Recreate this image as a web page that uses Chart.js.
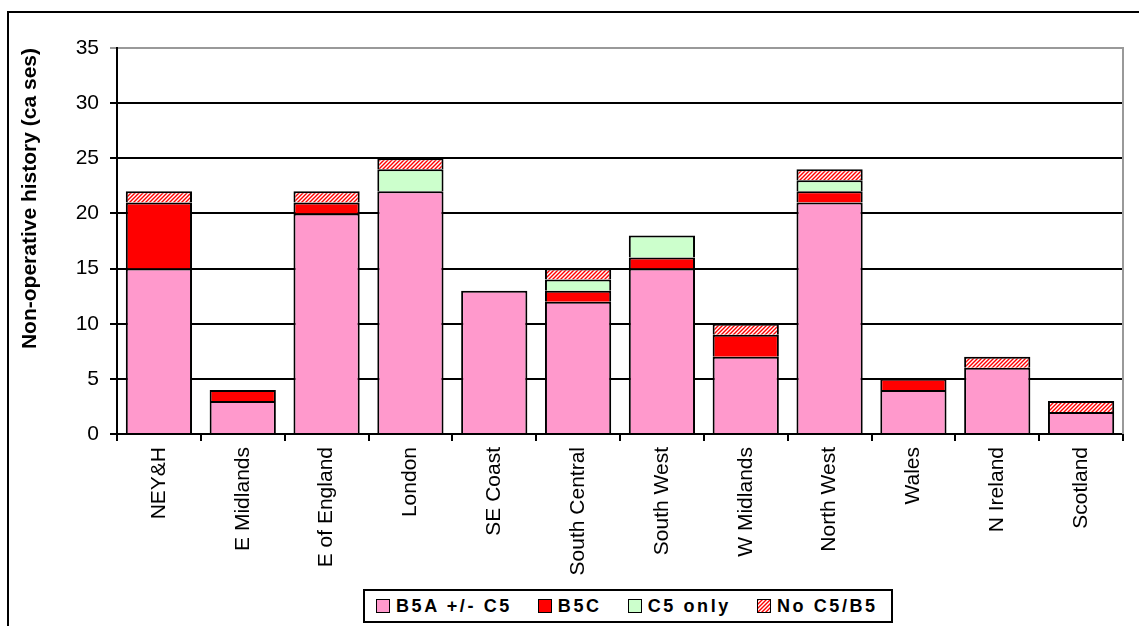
<!DOCTYPE html>
<html>
<head>
<meta charset="utf-8">
<title>Non-operative history by region</title>
<script src="https://cdn.jsdelivr.net/npm/chart.js@4/dist/chart.umd.min.js"></script>
<style>
  body { margin: 0; background: #fff; width: 1139px; height: 626px; overflow: hidden; position: relative;
         font-family: "Liberation Sans", Arial, sans-serif; }
  #frame { position: absolute; left: 7px; top: 11px; width: 1200px; height: 700px; border: 2px solid #000; }
  #chart { position: absolute; left: 0; top: 0; }
  #legend { position: absolute; left: 363px; top: 589px; width: 530px; height: 34px; box-sizing: border-box;
            border: 2px solid #000; background: #fff; display: flex; align-items: center; padding-left: 11px;
            white-space: nowrap; overflow: hidden; }
  #legend .item { display: flex; align-items: center; flex-shrink: 0; margin-right: 26px; }
  #legend .sw { width: 12px; height: 12px; border: 1.5px solid #000; margin-right: 6px; flex-shrink: 0; }
  #legend .lbl { font-weight: bold; font-size: 18px; letter-spacing: 2.6px; color: #000; white-space: nowrap; }
</style>
</head>
<body>
<div id="frame"></div>
<canvas id="chart" width="1139" height="626"></canvas>
<div id="legend"></div>
<script>
const regions = ['NEY&H', 'E Midlands', 'E of England', 'London', 'SE Coast', 'South Central',
                 'South West', 'W Midlands', 'North West', 'Wales', 'N Ireland', 'Scotland'];
const b5aC5  = [15, 3, 20, 22, 13, 12, 15, 7, 21, 4, 6, 2];
const b5c    = [6, 1, 1, 0, 0, 1, 1, 2, 1, 1, 0, 0];
const c5Only = [0, 0, 0, 2, 0, 1, 2, 0, 1, 0, 0, 0];
const noC5B5 = [1, 0, 1, 1, 0, 1, 0, 1, 1, 0, 1, 1];
const seriesNames = ['B5A +/- C5', 'B5C', 'C5 only', 'No C5/B5'];
const yTicks = [0, 5, 10, 15, 20, 25, 30, 35];

// red diagonal hatch for the "No C5/B5" segments
const stripe = document.createElement('canvas');
stripe.width = 4;
stripe.height = 4;
const sctx = stripe.getContext('2d');
sctx.fillStyle = '#fff';
sctx.fillRect(0, 0, 4, 4);
sctx.strokeStyle = '#ff0000';
sctx.lineWidth = 1.4;
sctx.beginPath();
sctx.moveTo(0, 4); sctx.lineTo(4, 0);
sctx.moveTo(-1, 1); sctx.lineTo(1, -1);
sctx.moveTo(3, 5); sctx.lineTo(5, 3);
sctx.stroke();

const canvas = document.getElementById('chart');
const hatch = canvas.getContext('2d').createPattern(stripe, 'repeat');
const fills = ['#ff99cc', '#ff0000', '#ccffcc', hatch];
const swatchCss = ['#ff99cc', '#ff0000', '#ccffcc', `url(${stripe.toDataURL()})`];

const seriesData = [b5aC5, b5c, c5Only, noC5B5];
const datasets = seriesData.map((d, i) => ({
    label: seriesNames[i],
    data: d,
    backgroundColor: fills[i],
    borderColor: '#000',
    borderWidth: 2,
    barPercentage: 0.79,
    categoryPercentage: 1.0
}));

// legend box under the plot
const legendEl = document.getElementById('legend');
seriesNames.forEach((name, i) => {
    const item = document.createElement('div');
    item.className = 'item';
    const sw = document.createElement('span');
    sw.className = 'sw';
    sw.style.background = swatchCss[i];
    const lbl = document.createElement('span');
    lbl.className = 'lbl';
    lbl.textContent = name;
    item.appendChild(sw);
    item.appendChild(lbl);
    legendEl.appendChild(item);
});

// gray right edge of the plot area
const plotEdge = {
    id: 'plotEdge',
    afterDraw(chart) {
        const {ctx, chartArea} = chart;
        ctx.save();
        ctx.strokeStyle = '#999';
        ctx.lineWidth = 2;
        ctx.beginPath();
        ctx.moveTo(chartArea.right, chartArea.top - 1);
        ctx.lineTo(chartArea.right, chartArea.bottom);
        ctx.stroke();
        ctx.restore();
    }
};

const font = 'Liberation Sans, Arial, sans-serif';

new Chart(canvas, {
    type: 'bar',
    data: { labels: regions, datasets: datasets },
    plugins: [plotEdge],
    options: {
        responsive: false,
        animation: false,
        layout: { padding: { top: 48, right: 16, bottom: 42, left: 0 } },
        plugins: {
            legend: { display: false },
            tooltip: { enabled: false }
        },
        scales: {
            x: {
                stacked: true,
                afterFit: (s) => { s.height = 150; },
                grid: { drawOnChartArea: false, color: '#000', lineWidth: 2, tickLength: 7 },
                border: { color: '#000', width: 2 },
                ticks: { minRotation: 90, maxRotation: 90, autoSkip: false, padding: 6,
                         color: '#000', font: { family: font, size: 21 } }
            },
            y: {
                stacked: true,
                min: yTicks[0],
                max: yTicks[yTicks.length - 1],
                afterFit: (s) => { s.width = 117; },
                afterBuildTicks: (s) => { s.ticks = yTicks.map((v) => ({ value: v })); },
                grid: {
                    color: (c) => (c.tick && c.tick.value === 35 ? '#999' : '#000'),
                    lineWidth: 2,
                    tickLength: 7
                },
                border: { color: '#000', width: 2 },
                ticks: { padding: 11, color: '#000', font: { family: font, size: 21 } },
                title: {
                    display: true,
                    text: 'Non-operative history (ca ses)',
                    align: 'end',
                    color: '#000',
                    padding: { top: 18, bottom: 0 },
                    font: { family: font, size: 21, weight: 'bold' }
                }
            }
        }
    }
});
</script>
</body>
</html>
